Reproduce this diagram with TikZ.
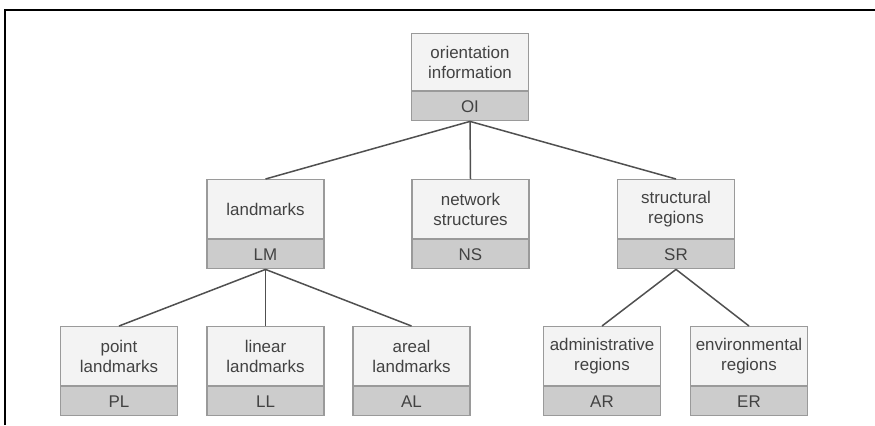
\documentclass[tikz,border=0pt]{standalone}
\usepackage{fontspec}
\setmainfont{Liberation Sans}
\definecolor{boxline}{HTML}{9A9A9A}
\definecolor{upperfill}{HTML}{F3F3F3}
\definecolor{lowerfill}{HTML}{CCCCCC}
\definecolor{labeltext}{HTML}{424242}
\definecolor{linkcol}{HTML}{505050}
% a category: named label part on top, abbreviation part below it
\newcommand\catbox[6]{%
  \node[upper, minimum height=#6] (#1) at (#2,#3) {#4};
  \node[lower] (#1b) at (#1.south) {#5};}
\begin{document}
\begin{tikzpicture}[x=1bp, y=-1bp,
  boxfont/.style={font=\fontsize{17}{20}\selectfont},
  upper/.style={draw=boxline, fill=upperfill, line width=1.2bp, anchor=north,
    minimum width=117bp, inner sep=0pt, align=center, text=labeltext, boxfont},
  lower/.style={draw=boxline, fill=lowerfill, line width=1.2bp, anchor=north,
    minimum width=117bp, minimum height=29bp, inner sep=0pt, text=labeltext, boxfont},
  link/.style={draw=linkcol, line width=1.5bp}]
\useasboundingbox (0,0) rectangle (875,425);
\fill[white] (0,0) rectangle (875,425);
% page frame
\draw[black, line width=2.6bp] (5,425) -- (5,10) -- (875,10);

% tree levels
\catbox{OI}{470}{33}{orientation\\information}{OI}{57bp}
\catbox{LM}{265.5}{179}{landmarks}{LM}{59bp}
\catbox{NS}{470.5}{179}{network\\structures}{NS}{59bp}
\catbox{SR}{676}{179}{structural\\regions}{SR}{59bp}
\catbox{PL}{119}{326}{point\\landmarks}{PL}{59bp}
\catbox{LL}{265.5}{326}{linear\\landmarks}{LL}{59bp}
\catbox{AL}{411.5}{326}{areal\\landmarks}{AL}{59bp}
\catbox{AR}{602}{326}{administrative\\regions}{AR}{59bp}
\catbox{ER}{749}{326}{environmental\\regions}{ER}{59bp}

% connectors
\draw[link] (OIb.south) -- (LM.north);
\draw[link] (OIb.south) -- (NS.north);
\draw[link] (OIb.south) -- (SR.north);
\draw[link] (LMb.south) -- (PL.north);
\draw[link] (LMb.south) -- (LL.north);
\draw[link] (LMb.south) -- (AL.north);
\draw[link] (SRb.south) -- (AR.north);
\draw[link] (SRb.south) -- (ER.north);
\end{tikzpicture}
\end{document}
